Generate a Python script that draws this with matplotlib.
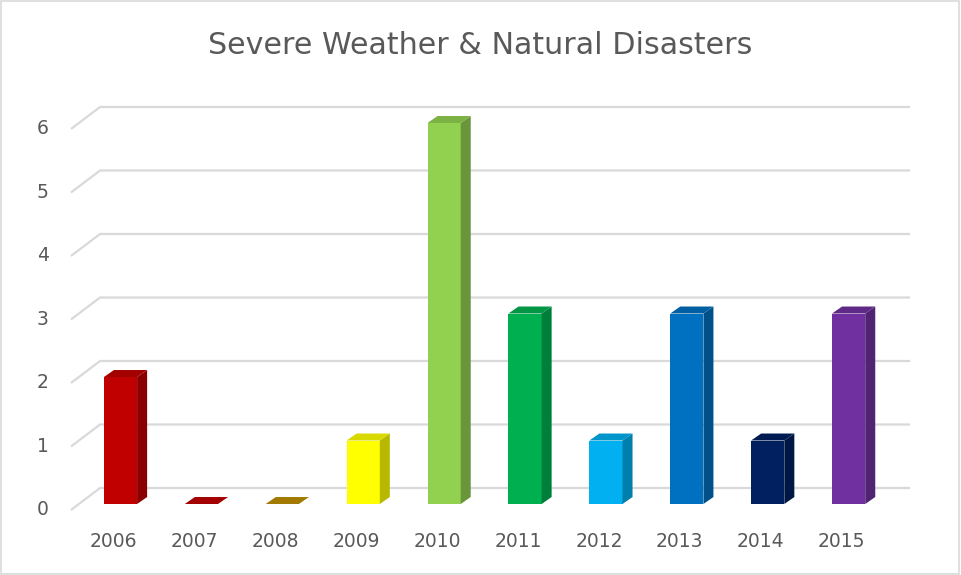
import numpy as np
import matplotlib.pyplot as plt
from matplotlib.patches import Polygon, Rectangle
from matplotlib.colors import to_rgb

years = ["2006", "2007", "2008", "2009", "2010", "2011", "2012", "2013", "2014", "2015"]
counts = [2, 0, 0, 1, 6, 3, 1, 3, 1, 3]
colors = ["#C00000", "#C00000", "#BF9000", "#FFFF00", "#92D050",
          "#00B050", "#00B0F0", "#0070C0", "#002060", "#7030A0"]
yticks = [0, 1, 2, 3, 4, 5, 6]

def shade(c, f):
    r, g, b = to_rgb(c)
    return (r * f, g * f, b * f)

fig = plt.figure(figsize=(9.61, 5.75), dpi=100)
ax = fig.add_axes([0, 0, 1, 1])
ax.set_xlim(-1.4895, 10.389)
ax.set_ylim(-1.118, 7.937)
ax.axis("off")

grid_c = "#D9D9D9"
text_c = "#595959"

# 3d gridlines: slanted floor edge + back wall line
for v in yticks:
    ax.plot([-0.612, -0.253, 9.76], [v - 0.094, v + 0.252, v + 0.252],
            color=grid_c, lw=1.6, zorder=1, solid_capstyle="butt")
    ax.text(-0.958, v - 0.094, str(v), ha="center", va="center",
            fontsize=13.5, color=text_c)

x = np.arange(len(years))
w = 0.41
dx, dy = 0.124, 0.11

ax.bar(x, counts, width=w, color=colors, zorder=3, linewidth=0)
for xi, v, c in zip(x, counts, colors):
    r = xi + w / 2
    l = xi - w / 2
    side = Polygon([(r, 0), (r + dx, dy), (r + dx, v + dy), (r, v)],
                   closed=True, fc=shade(c, 0.72), ec="none", zorder=3)
    top = Polygon([(l, v), (r, v), (r + dx, v + dy), (l + dx, v + dy)],
                  closed=True, fc=shade(c, 0.85), ec="none", zorder=4)
    ax.add_patch(side)
    ax.add_patch(top)

for xi, lab in zip(x, years):
    ax.text(xi - 0.087, -0.598, lab, ha="center", va="center",
            fontsize=13.5, color=text_c)

fig.text(0.5, 1 - 45 / 575, "Severe Weather & Natural Disasters",
         ha="center", va="center", fontsize=21.7, color=text_c)

fig.patches.append(Rectangle((0.001, 0.002), 0.997, 0.996, transform=fig.transFigure,
                             fill=False, ec="#D9D9D9", lw=1.2))

fig.savefig("out.png", dpi=100)
